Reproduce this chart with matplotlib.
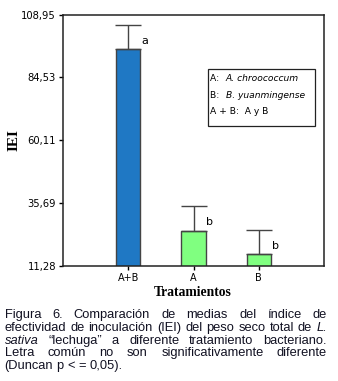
import numpy as np
import matplotlib.pyplot as plt
from matplotlib.patches import Rectangle

# data
tratamientos = ['A+B', 'A', 'B']
medias = [95.5, 24.9, 15.8]
error_sup = [9.4, 9.5, 9.4]
letras = ['a', 'b', 'b']
colores = ['#1f78c4', '#80ff80', '#80ff80']
yticks = [11.28, 35.69, 60.11, 84.53, 108.95]
ytick_lbl = ['11,28', '35,69', '60,11', '84,53', '108,95']

leyenda = [[('A:  ', 'normal'), ('A. chroococcum', 'italic')],
           [('B:  ', 'normal'), ('B. yuanmingense', 'italic')],
           [('A + B:  A y B', 'normal')]]

caption = [
    [('Figura', 'n'), ('6.', 'n'), ('Comparación', 'n'), ('de', 'n'), ('medias', 'n'),
     ('del', 'n'), ('índice', 'n'), ('de', 'n')],
    [('efectividad', 'n'), ('de', 'n'), ('inoculación', 'n'), ('(IEI)', 'n'), ('del', 'n'),
     ('peso', 'n'), ('seco', 'n'), ('total', 'n'), ('de', 'n'), ('L.', 'i')],
    [('sativa', 'i'), ('“lechuga”', 'n'), ('a', 'n'), ('diferente', 'n'), ('tratamiento', 'n'),
     ('bacteriano.', 'n')],
    [('Letra', 'n'), ('común', 'n'), ('no', 'n'), ('son', 'n'), ('significativamente', 'n'),
     ('diferente', 'n')],
    [('(Duncan', 'n'), ('p', 'n'), ('<', 'n'), ('=', 'n'), ('0,05).', 'n')],
]

W, H = 338, 381
fig = plt.figure(figsize=(W/100, H/100), dpi=100)
ax = fig.add_axes([63/W, 1-265.7/H, (324-63)/W, (265.7-14.7)/H])
renderer = fig.canvas.get_renderer()

x = np.arange(len(tratamientos))
bw = 0.37
ax.bar(x, medias, width=bw, color=colores, edgecolor='#444444', linewidth=1.0, zorder=2)
ax.errorbar(x, medias, yerr=[np.zeros(len(x)), error_sup], fmt='none',
            ecolor='#444444', elinewidth=1.0, capsize=9.5, capthick=1.0, zorder=3)
for xi, m, e, l in zip(x, medias, error_sup, letras):
    ax.text(xi + 0.25, m + e - 6.2, l, fontsize=8, ha='center', va='center',
            family='DejaVu Sans')

ax.set_xlim(-1, 3)
ax.set_ylim(yticks[0], yticks[-1])
ax.set_yticks(yticks)
ax.set_yticklabels(ytick_lbl, fontsize=7.2, family='DejaVu Sans')
ax.set_xticks(x)
ax.set_xticklabels(tratamientos, fontsize=7, family='DejaVu Sans')
ax.tick_params(axis='both', length=3, width=1.0, direction='out', pad=2)
for s in ax.spines.values():
    s.set_linewidth(1.1)
    s.set_color('#222222')

fig.text(14/W, 1-140/H, 'IEI', fontsize=11, fontweight='bold', family='Liberation Serif',
         rotation=90, ha='center', va='center')
fig.text(193/W, 1-293/H, 'Tratamientos', fontsize=9.8, fontweight='bold',
         family='Liberation Serif', ha='center', va='center')

# legend box
fig.patches.append(Rectangle((208/W, 1-125.7/H), 107/W, 56.7/H, transform=fig.transFigure,
                             fill=False, edgecolor='#222222', linewidth=0.9))
ly = [78.5, 95, 111.5]
for row, yy in zip(leyenda, ly):
    xx = 210.5
    for txt, st in row:
        t = fig.text(xx/W, 1-yy/H, txt, fontsize=6.6, style=st, va='center',
                     family='DejaVu Sans')
        xx += t.get_window_extent(renderer).width

# caption, justified; size set so line 2 fits at normal spacing
cap_col = '#111122'
x0, x1 = 4.5, 327
probe = fig.text(0, 0, ' '.join(w for w, _ in caption[1]), fontsize=8,
                 family='Liberation Sans')
cap_fs = 8 * (x1 - x0) / probe.get_window_extent(renderer).width
probe.remove()
line_y = [315, 327.8, 340.6, 353.4, 366.2]
for i, (words, yy) in enumerate(zip(caption, line_y)):
    objs = []
    for w, st in words:
        t = fig.text(0, 1-yy/H, w, fontsize=cap_fs, family='Liberation Sans', color=cap_col,
                     style='italic' if st == 'i' else 'normal', va='center')
        objs.append(t)
    widths = [t.get_window_extent(renderer).width for t in objs]
    if i < len(caption) - 1:
        gap = (x1 - x0 - sum(widths)) / (len(objs) - 1)
    else:
        sp = fig.text(0, 0, 'a a', fontsize=cap_fs, family='Liberation Sans')
        sp2 = fig.text(0, 0, 'aa', fontsize=cap_fs, family='Liberation Sans')
        gap = sp.get_window_extent(renderer).width - sp2.get_window_extent(renderer).width
        sp.remove()
        sp2.remove()
    xx = x0
    for t, wd in zip(objs, widths):
        t.set_x(xx/W)
        xx += wd + gap

fig.savefig('out.png', dpi=100)
